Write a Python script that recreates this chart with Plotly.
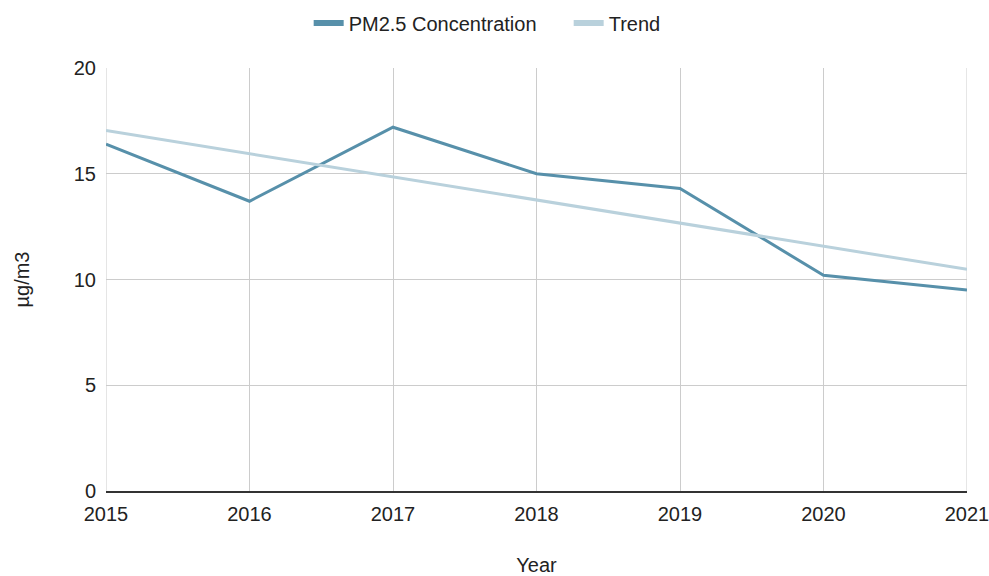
import plotly.graph_objects as go

# Annual mean PM2.5 concentration
years = [2015, 2016, 2017, 2018, 2019, 2020, 2021]
pm25 = [16.4, 13.7, 17.2, 15.0, 14.3, 10.2, 9.5]

# Linear trend line end points
trend_years = [2015, 2021]
trend_values = [17.04, 10.48]

y_ticks = [0, 5, 10, 15, 20]

series_names = ["PM2.5 Concentration", "Trend"]
line_color = "#5790aa"
trend_color = "#b9d1dc"
grid_color = "#cccccc"
font_family = "Liberation Sans, Arial, sans-serif"

fig = go.Figure()
fig.add_trace(go.Scatter(
    x=years, y=pm25, mode="lines", name=series_names[0], showlegend=False,
    line=dict(color=line_color, width=3),
))
fig.add_trace(go.Scatter(
    x=trend_years, y=trend_values, mode="lines", name=series_names[1], showlegend=False,
    line=dict(color=trend_color, width=3),
))

# legend keys drawn with a heavier stroke than the plotted lines
for name, color in zip(series_names, [line_color, trend_color]):
    fig.add_trace(go.Scatter(
        x=[None], y=[None], mode="lines", name=name,
        line=dict(color=color, width=6), hoverinfo="skip",
    ))

fig.update_layout(
    width=989, height=576,
    margin=dict(l=106, r=22, t=68, b=85),
    paper_bgcolor="white", plot_bgcolor="white",
    font=dict(family=font_family, size=20, color="#222222"),
    showlegend=True,
    legend=dict(
        orientation="h", xref="container", x=0.575, xanchor="center",
        yref="container", y=1 - 23 / 576, yanchor="middle",
        font=dict(size=20), itemwidth=30, entrywidth=215,
    ),
    xaxis=dict(
        range=[2015, 2021], tickvals=years, ticktext=[str(y) for y in years],
        showgrid=True, gridcolor=grid_color, gridwidth=1,
        zeroline=False, showline=True, linecolor="#333333", linewidth=2,
        ticks="", ticklabelstandoff=4, automargin=False,
        ticklabeloverflow="allow",
        title=dict(text="Year", standoff=40, font=dict(size=20)),
    ),
    yaxis=dict(
        range=[0, 20], tickvals=y_ticks,
        showgrid=True, gridcolor=grid_color, gridwidth=1,
        zeroline=False, showline=False, ticks="", ticklabelstandoff=9,
        automargin=False,
        title=dict(text="µg/m3", standoff=38, font=dict(size=20)),
    ),
)

# left and right borders of the plot area
for edge in (2015, 2021):
    fig.add_shape(type="line", xref="x", yref="paper", x0=edge, x1=edge, y0=0, y1=1,
                  line=dict(color=grid_color, width=1), layer="below")

fig.write_html("out.html")
